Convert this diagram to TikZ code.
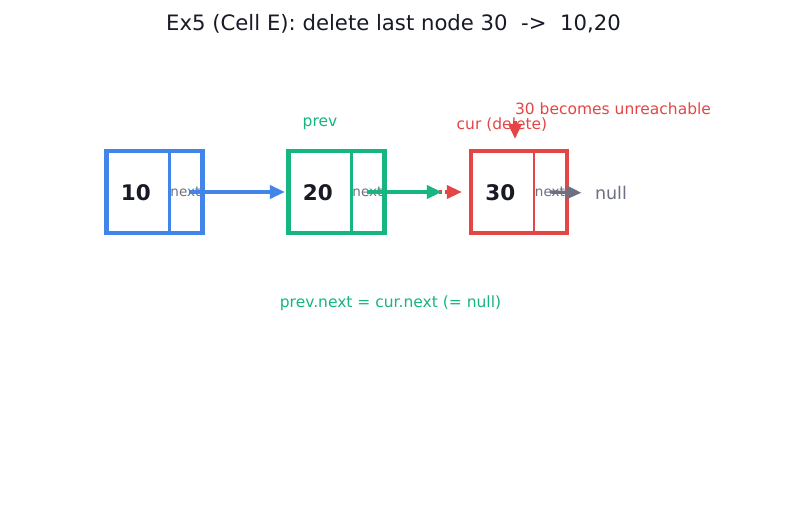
\documentclass[tikz,border=0pt]{standalone}
\usepackage{fontspec}
\setmainfont{DejaVu Sans}
\usetikzlibrary{arrows.meta,positioning,calc}
\definecolor{nodeblue}{RGB}{66,133,234}
\definecolor{nodegreen}{RGB}{22,181,130}
\definecolor{nodered}{RGB}{228,70,70}
\definecolor{ptrgray}{RGB}{108,112,128}
\definecolor{txtdark}{RGB}{24,26,38}
\tikzset{
  cellbox/.style={draw, line width=4.2pt, minimum width=96pt, minimum height=82pt, inner sep=0pt},
  valtext/.style={font=\fontsize{21.5}{22}\selectfont\bfseries, text=txtdark},
  nexttext/.style={font=\fontsize{13.5}{14}\selectfont, text=ptrgray},
  ptr/.style={line width=3.4pt, -{Triangle[length=15pt,width=13pt]}},
  note/.style={font=\fontsize{15.5}{16}\selectfont}
}
\begin{document}
\begin{tikzpicture}[x=1pt,y=-1pt]
    \useasboundingbox[fill=white] (0,0) rectangle (787,508);
    % Title
    \node[font=\fontsize{21.2}{22}\selectfont, text=txtdark] (title) at (393.5,24) {Ex5 (Cell E): delete last node 30 \ ->\ \ 10,20};
    % List cells
    \node[cellbox, draw=nodeblue] (n10) at (154.5,192) {};
    \node[cellbox, draw=nodegreen] (n20) at (336.5,192) {};
    \node[cellbox, draw=nodered] (n30) at (519,192) {};
    \draw[nodeblue, line width=2.2pt] ($(n10.north west)+(65,0)$) -- ($(n10.south west)+(65,0)$);
    \draw[nodegreen, line width=2.2pt] ($(n20.north west)+(65,0)$) -- ($(n20.south west)+(65,0)$);
    \draw[nodered, line width=2.2pt] ($(n30.north west)+(65,0)$) -- ($(n30.south west)+(65,0)$);
    % Values and next fields
    \node[valtext] (v10) at ($(n10.west)+(31.5,1)$) {10};
    \node[valtext] (v20) at ($(n20.west)+(31.5,1)$) {20};
    \node[valtext] (v30) at ($(n30.west)+(31.5,1)$) {30};
    \node[nexttext] (x10) at ($(n10.west)+(81,0)$) {next};
    \node[nexttext] (x20) at ($(n20.west)+(81,0)$) {next};
    \node[nexttext] (x30) at ($(n30.west)+(81,0)$) {next};
    \node[font=\fontsize{17.5}{18}\selectfont, text=ptrgray] (nul) at (611,193) {null};
    % Pointers
    \coordinate (gend) at ($(n30.west)+(-27,0)$);
    \draw[ptr, nodeblue, shorten >=1.5pt] ($(x10.center)+(4,0)$) -- (n20.west);
    \draw[ptr, nodered, dashed, shorten >=7pt] (x20.center) -- (n30.west);
    \draw[ptr, nodegreen] (x20.center) -- (gend);
    \draw[ptr, ptrgray, shorten >=10pt] (x30.center) -- (nul.west);
    % Labels
    \node[note, text=nodegreen] (prevlbl) at (320,124) {prev};
    \node[note, text=nodered] (curlbl) at (502,125) {cur (delete)};
    \node[note, text=nodered] (lostlbl) at (613,109) {30 becomes unreachable};
    \coordinate (curtop) at (515,121);
    \coordinate (curbot) at (515,139);
    \draw[ptr, nodered] (curtop) -- (curbot);
    \node[note, text=nodegreen] (rule) at (390.5,303) {prev.next = cur.next (= null)};
\end{tikzpicture}
\end{document}
